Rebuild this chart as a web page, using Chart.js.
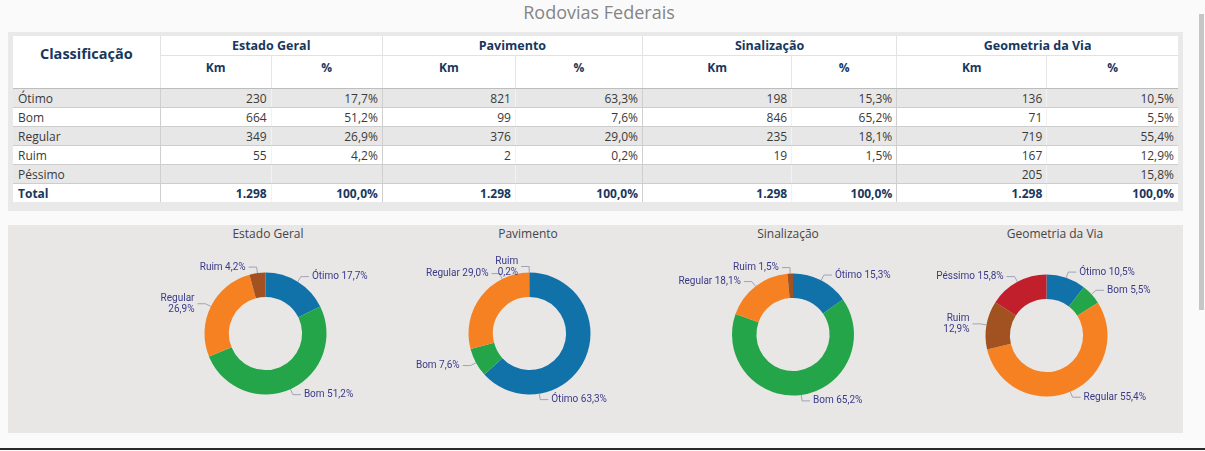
<!DOCTYPE html>
<html lang="pt-BR">
<head>
<meta charset="utf-8">
<title>Rodovias Federais</title>
<script src="https://cdn.jsdelivr.net/npm/chart.js@4.4.1/dist/chart.umd.min.js"></script>
<style>
  body { margin: 0; width: 1205px; height: 451px; overflow: hidden; background: #fafafa; font-family: "Open Sans", sans-serif; position: relative; }
  #titulo { position: absolute; left: 0; top: 0; width: 1198px; text-align: center; font-size: 18px; color: #858585; line-height: 24px; }
  #scroll { position: absolute; left: 1199px; top: 14px; width: 5px; height: 296px; background: #c6c6c6; }
  #painel-tabela { position: absolute; left: 8px; top: 32px; width: 1175px; height: 179px; background: #e9e9e9; }
  #painel-graficos { position: absolute; left: 8px; top: 225px; width: 1175px; height: 208px; background: #e8e7e5; }
  #linha-base { position: absolute; left: 0; top: 448px; width: 1205px; height: 2px; background: #2a2a2a; }
  #tabela { position: absolute; left: 13px; top: 36px; width: 1165px; border-collapse: collapse; table-layout: fixed; font-size: 12px; color: #3a3a3a; }
  #tabela th { background: #fff; color: #17375e; font-weight: bold; padding: 0; text-align: center; }
  #tabela th.classif { font-size: 14.5px; vertical-align: top; padding-top: 8px; }
  #tabela th.grupo { height: 19px; font-size: 12.5px; border-bottom: 1px solid #e2e2e2; border-left: 1px solid #e2e2e2; }
  #tabela th.sub { height: 29px; font-size: 12px; border-bottom: 1px solid #bdbdbd; border-left: 1px solid #e6e6e6; vertical-align: top; padding-top: 3px; }
  #tabela th.classif { border-bottom: 1px solid #bdbdbd; }
  #tabela td { height: 18px; padding: 0 4px 0 0; text-align: right; border-bottom: 1px solid #cdcdcd; border-left: 1px solid #f2f2f2; white-space: nowrap; }
  #tabela td.rotulo { text-align: left; padding-left: 5px; border-left: none; }
  #tabela td.inicio { border-left: 1px solid #cfcfcf; }
  #tabela tr.cinza td { background: #e7e7e7; }
  #tabela tr.branca td { background: #fff; }
  #tabela tr.total td { background: #fff; color: #17375e; font-weight: bold; border-bottom: none; }
  .titulo-grafico { position: absolute; top: 225px; height: 18px; line-height: 18px; text-align: center; font-size: 12px; color: #454545; }
  canvas { position: absolute; top: 225px; }
</style>
</head>
<body>
<div id="titulo">Rodovias Federais</div>
<div id="scroll"></div>
<div id="painel-tabela"></div>
<table id="tabela"></table>
<div id="painel-graficos"></div>
<div id="linha-base"></div>

<script>
const categorias = ['Ótimo', 'Bom', 'Regular', 'Ruim', 'Péssimo'];
const grupos = ['Estado Geral', 'Pavimento', 'Sinalização', 'Geometria da Via'];

const kmEstadoGeral = [230, 664, 349, 55, null];
const pctEstadoGeral = [17.7, 51.2, 26.9, 4.2, null];
const kmPavimento = [821, 99, 376, 2, null];
const pctPavimento = [63.3, 7.6, 29.0, 0.2, null];
const kmSinalizacao = [198, 846, 235, 19, null];
const pctSinalizacao = [15.3, 65.2, 18.1, 1.5, null];
const kmGeometria = [136, 71, 719, 167, 205];
const pctGeometria = [10.5, 5.5, 55.4, 12.9, 15.8];

const totalKm = [1298, 1298, 1298, 1298];
const totalPct = [100.0, 100.0, 100.0, 100.0];

const kmPorGrupo = [kmEstadoGeral, kmPavimento, kmSinalizacao, kmGeometria];
const pctPorGrupo = [pctEstadoGeral, pctPavimento, pctSinalizacao, pctGeometria];

const coresCategoria = {
    'Ótimo': '#1172aa',
    'Bom': '#24a54a',
    'Regular': '#f68122',
    'Ruim': '#a15220',
    'Péssimo': '#c01f2b'
};

// posicao de cada rosca na pagina e ajustes dos rotulos
const layoutGraficos = [
    { left: 138, width: 260, cx: 265.5, cy: 333.5, dicas: { 'Regular': { quebra: true } } },
    { left: 398, width: 260, cx: 529.5, cy: 333.5, dicas: { 'Ótimo': { em: 0.75 }, 'Regular': { em: 0.75 }, 'Ruim': { quebra: true } } },
    { left: 658, width: 260, cx: 793, cy: 334.5, dicas: {} },
    { left: 925, width: 258, cx: 1046.5, cy: 335.5, dicas: { 'Ruim': { quebra: true } } }
];
const RAIO = 61;
const TOPO = 225, ALTURA = 208;

function fmtKm(n) {
    return String(n).replace(/\B(?=(\d{3})+(?!\d))/g, '.');
}
function fmtPct(p) {
    return p.toFixed(1).replace('.', ',') + '%';
}

// tabela
function montaTabela() {
    const larguras = [147, 111, 111, 133, 127, 149, 105, 150, 131];
    let html = '<colgroup>' + larguras.map(w => `<col style="width:${w}px">`).join('') + '</colgroup>';
    html += '<tr><th class="classif" rowspan="2">Classificação</th>';
    grupos.forEach(g => { html += `<th class="grupo" colspan="2">${g}</th>`; });
    html += '</tr><tr>';
    grupos.forEach(() => { html += '<th class="sub">Km</th><th class="sub">%</th>'; });
    html += '</tr>';
    categorias.forEach((cat, i) => {
        html += `<tr class="${i % 2 === 0 ? 'cinza' : 'branca'}"><td class="rotulo">${cat}</td>`;
        grupos.forEach((g, j) => {
            const km = kmPorGrupo[j][i], pct = pctPorGrupo[j][i];
            html += `<td class="inicio">${km == null ? '' : fmtKm(km)}</td><td>${pct == null ? '' : fmtPct(pct)}</td>`;
        });
        html += '</tr>';
    });
    html += '<tr class="total"><td class="rotulo">Total</td>';
    grupos.forEach((g, j) => {
        html += `<td class="inicio">${fmtKm(totalKm[j])}</td><td>${fmtPct(totalPct[j])}</td>`;
    });
    html += '</tr>';
    document.getElementById('tabela').innerHTML = html;
}
montaTabela();

// rotulos externos com linha guia
const rotulos = {
    id: 'rotulos',
    afterDatasetsDraw(chart, args, opts) {
        const ctx = chart.ctx;
        const meta = chart.getDatasetMeta(0);
        const dicas = opts.dicas || {};
        ctx.save();
        ctx.font = '10px Roboto';
        meta.data.forEach((arc, i) => {
            const nome = chart.data.labels[i];
            const p = arc.getProps(['x', 'y', 'startAngle', 'endAngle', 'outerRadius'], true);
            const dica = dicas[nome] || {};
            const frac = dica.em !== undefined ? dica.em : 0.5;
            const a = p.startAngle + (p.endAngle - p.startAngle) * frac;
            const cos = Math.cos(a), sin = Math.sin(a);
            const x0 = p.x + cos * p.outerRadius, y0 = p.y + sin * p.outerRadius;
            const x1 = p.x + cos * (p.outerRadius + 6), y1 = p.y + sin * (p.outerRadius + 6);
            const dir = cos >= 0 ? 1 : -1;
            const x2 = x1 + dir * 8;
            ctx.strokeStyle = '#9ea3b8';
            ctx.lineWidth = 1;
            ctx.beginPath();
            ctx.moveTo(x0, y0);
            ctx.lineTo(x1, y1);
            ctx.lineTo(x2, y1);
            ctx.stroke();
            const pct = fmtPct(opts.pct[i]);
            const linhas = dica.quebra ? [nome, pct] : [nome + ' ' + pct];
            ctx.fillStyle = '#3a3a8a';
            ctx.textAlign = dir > 0 ? 'left' : 'right';
            ctx.textBaseline = 'middle';
            linhas.forEach((l, k) => {
                ctx.fillText(l, x2 + dir * 3, y1 + (k - (linhas.length - 1) / 2) * 11);
            });
        });
        ctx.restore();
    }
};

Chart.defaults.font.family = 'Roboto';

grupos.forEach((grupo, j) => {
    const lay = layoutGraficos[j];

    const titulo = document.createElement('div');
    titulo.className = 'titulo-grafico';
    titulo.style.left = lay.left + 'px';
    titulo.style.width = '260px';
    titulo.textContent = grupo;
    document.body.appendChild(titulo);

    const canvas = document.createElement('canvas');
    canvas.width = lay.width;
    canvas.height = ALTURA;
    canvas.style.left = lay.left + 'px';
    document.body.appendChild(canvas);

    // apenas categorias com valor
    const idx = categorias.map((c, i) => i).filter(i => kmPorGrupo[j][i] != null);
    const labels = idx.map(i => categorias[i]);

    new Chart(canvas.getContext('2d'), {
        type: 'doughnut',
        data: {
            labels: labels,
            datasets: [{
                data: idx.map(i => kmPorGrupo[j][i]),
                backgroundColor: labels.map(c => coresCategoria[c]),
                borderWidth: 0,
                hoverOffset: 0
            }]
        },
        options: {
            responsive: false,
            animation: false,
            events: [],
            cutout: '60%',
            radius: RAIO,
            layout: {
                padding: {
                    left: lay.cx - RAIO - lay.left,
                    right: lay.left + lay.width - lay.cx - RAIO,
                    top: lay.cy - RAIO - TOPO,
                    bottom: TOPO + ALTURA - lay.cy - RAIO
                }
            },
            plugins: {
                legend: { display: false },
                tooltip: { enabled: false },
                rotulos: { pct: idx.map(i => pctPorGrupo[j][i]), dicas: lay.dicas }
            }
        },
        plugins: [rotulos]
    });
});
</script>
</body>
</html>
